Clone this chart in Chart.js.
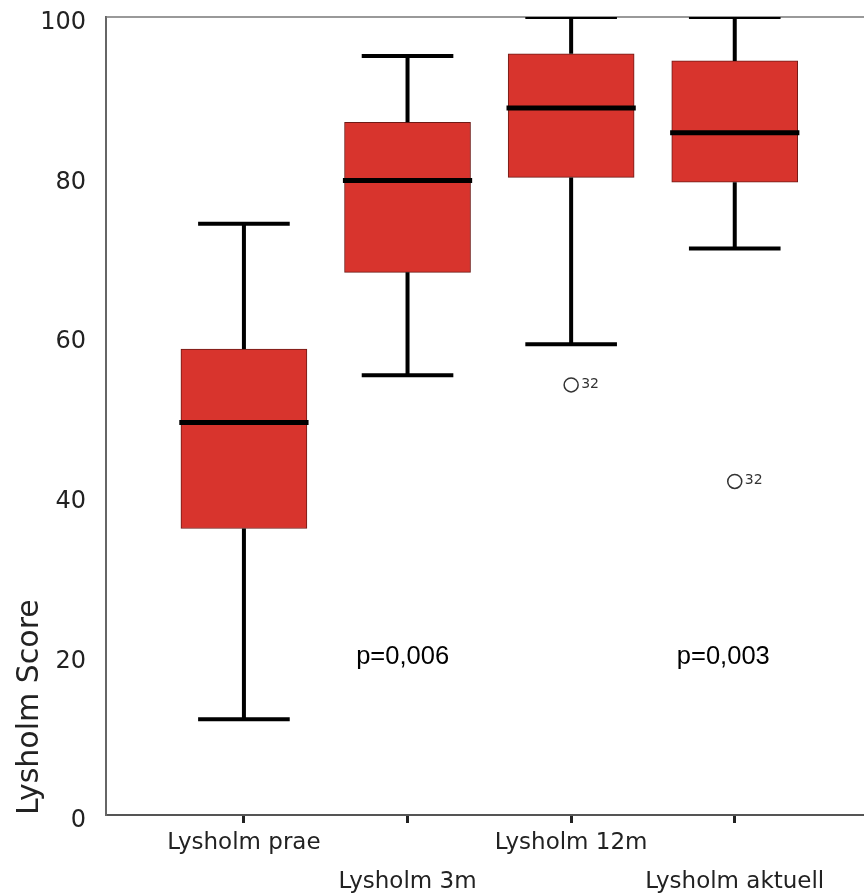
<!DOCTYPE html>
<html>
<head>
<meta charset="utf-8">
<script src="https://cdn.jsdelivr.net/npm/chart.js@4/dist/chart.umd.min.js"></script>
<style>
    html, body { margin: 0; padding: 0; background: #fff; overflow: hidden; }
    #wrap { width: 864px; height: 893px; position: relative; }
    canvas { display: block; }
</style>
</head>
<body>
<div id="wrap"><canvas id="chart"></canvas></div>
<script>
// values
const categories = ['Lysholm prae', 'Lysholm 3m', 'Lysholm 12m', 'Lysholm aktuell'];
const whiskerLow = [12.0, 55.1, 59.0, 71.0];
const q1 = [35.9, 68.0, 79.9, 79.3];
const median = [49.2, 79.5, 88.6, 85.5];
const q3 = [58.4, 86.8, 95.4, 94.5];
const whiskerHigh = [74.1, 95.1, 100, 100];

const outlierCat = [2, 3];
const outlierVal = [53.9, 41.8];
const outlierLabel = ['32', '32'];

const pTexts = ['p=0,006', 'p=0,003'];
const pX = [0.97, 2.93];
const pY = [19.8, 19.8];

const yTicks = [0, 20, 40, 60, 80, 100];

const capHalf = 0.28;
const medHalf = 0.395;
const gap = (x) => ({ x, y: null });

const whiskerData = [];
const capData = [];
const medianData = [];
categories.forEach((c, i) => {
    whiskerData.push({ x: i, y: q3[i] }, { x: i, y: whiskerHigh[i] }, gap(i));
    whiskerData.push({ x: i, y: q1[i] }, { x: i, y: whiskerLow[i] }, gap(i));
    capData.push({ x: i - capHalf, y: whiskerHigh[i] }, { x: i + capHalf, y: whiskerHigh[i] }, gap(i));
    capData.push({ x: i - capHalf, y: whiskerLow[i] }, { x: i + capHalf, y: whiskerLow[i] }, gap(i));
    medianData.push({ x: i - medHalf, y: median[i] }, { x: i + medHalf, y: median[i] }, gap(i));
});

const lineStyle = {
    type: 'line',
    borderColor: '#000',
    borderWidth: 4,
    borderCapStyle: 'butt',
    pointRadius: 0,
    spanGaps: false,
    order: 1,
};

const annotations = {
    id: 'annotations',
    beforeDatasetsDraw(chart) {
        // top frame line
        const { ctx, chartArea } = chart;
        ctx.save();
        ctx.strokeStyle = '#777';
        ctx.lineWidth = 1.5;
        ctx.beginPath();
        ctx.moveTo(chartArea.left, chartArea.top);
        ctx.lineTo(chartArea.right, chartArea.top);
        ctx.stroke();
        ctx.restore();
    },
    afterDatasetsDraw(chart) {
        const { ctx } = chart;
        const xs = chart.scales.x;
        const ys = chart.scales.y;
        ctx.save();
        ctx.fillStyle = '#333';
        ctx.font = '14px "DejaVu Sans"';
        ctx.textAlign = 'left';
        ctx.textBaseline = 'middle';
        outlierCat.forEach((c, i) => {
            ctx.fillText(outlierLabel[i], xs.getPixelForValue(c) + 10, ys.getPixelForValue(outlierVal[i]) - 1);
        });
        ctx.fillStyle = '#000';
        ctx.font = '25.5px "Liberation Sans", Arial';
        ctx.textAlign = 'center';
        pTexts.forEach((t, i) => {
            ctx.fillText(t, xs.getPixelForValue(pX[i]), ys.getPixelForValue(pY[i]));
        });
        ctx.restore();
    },
};

new Chart(document.getElementById('chart'), {
    type: 'bar',
    data: {
        datasets: [
            {
                type: 'bar',
                data: categories.map((c, i) => ({ x: i, y: [q1[i], q3[i]] })),
                backgroundColor: '#d8342d',
                borderColor: '#6e1a16',
                borderWidth: 1,
                borderSkipped: false,
                barThickness: 126,
                order: 3,
            },
            { ...lineStyle, data: whiskerData },
            { ...lineStyle, data: capData },
            { ...lineStyle, data: medianData, borderWidth: 5, order: 0 },
            {
                type: 'scatter',
                data: outlierCat.map((c, i) => ({ x: c, y: outlierVal[i] })),
                pointRadius: 7,
                pointBackgroundColor: 'rgba(0,0,0,0)',
                pointBorderColor: '#333',
                pointBorderWidth: 1.5,
                order: 0,
            },
        ],
    },
    options: {
        responsive: true,
        maintainAspectRatio: false,
        animation: false,
        layout: { autoPadding: false, padding: { top: 17, right: 0, left: 0, bottom: 0 } },
        plugins: {
            legend: { display: false },
            tooltip: { enabled: false },
        },
        scales: {
            x: {
                type: 'linear',
                min: -0.843,
                max: 3.79,
                offset: false,
                afterBuildTicks: (scale) => {
                    scale.ticks = categories.map((c, i) => ({ value: i }));
                },
                afterFit: (scale) => {
                    scale.height = 78;
                    scale.paddingLeft = 0;
                    scale.paddingRight = 0;
                },
                ticks: {
                    autoSkip: false,
                    maxRotation: 0,
                    padding: 0,
                    color: '#222',
                    font: { family: 'DejaVu Sans', size: 23, lineHeight: 1.7 },
                    callback: (v) => {
                        const label = categories[v];
                        return v % 2 === 0 ? [label, ''] : ['', label];
                    },
                },
                grid: {
                    offset: false,
                    drawOnChartArea: false,
                    drawTicks: true,
                    tickLength: 8,
                    tickWidth: 3,
                    tickColor: '#222',
                },
                border: { display: true, color: '#555', width: 2 },
            },
            y: {
                min: 0,
                max: 100,
                afterBuildTicks: (scale) => {
                    scale.ticks = yTicks.map((v) => ({ value: v }));
                },
                afterFit: (scale) => {
                    scale.width = 106;
                    scale.paddingTop = 0;
                    scale.paddingBottom = 0;
                },
                ticks: {
                    padding: 20,
                    labelOffset: 6,
                    color: '#222',
                    font: { family: 'DejaVu Sans', size: 24 },
                },
                grid: { display: false, drawTicks: false },
                border: { display: true, color: '#666', width: 2 },
                title: {
                    display: true,
                    text: 'Lysholm Score',
                    align: 'start',
                    color: '#222',
                    padding: { top: 12, bottom: 0 },
                    font: { family: 'DejaVu Sans', size: 30 },
                },
            },
        },
    },
    plugins: [annotations],
});
</script>
</body>
</html>
